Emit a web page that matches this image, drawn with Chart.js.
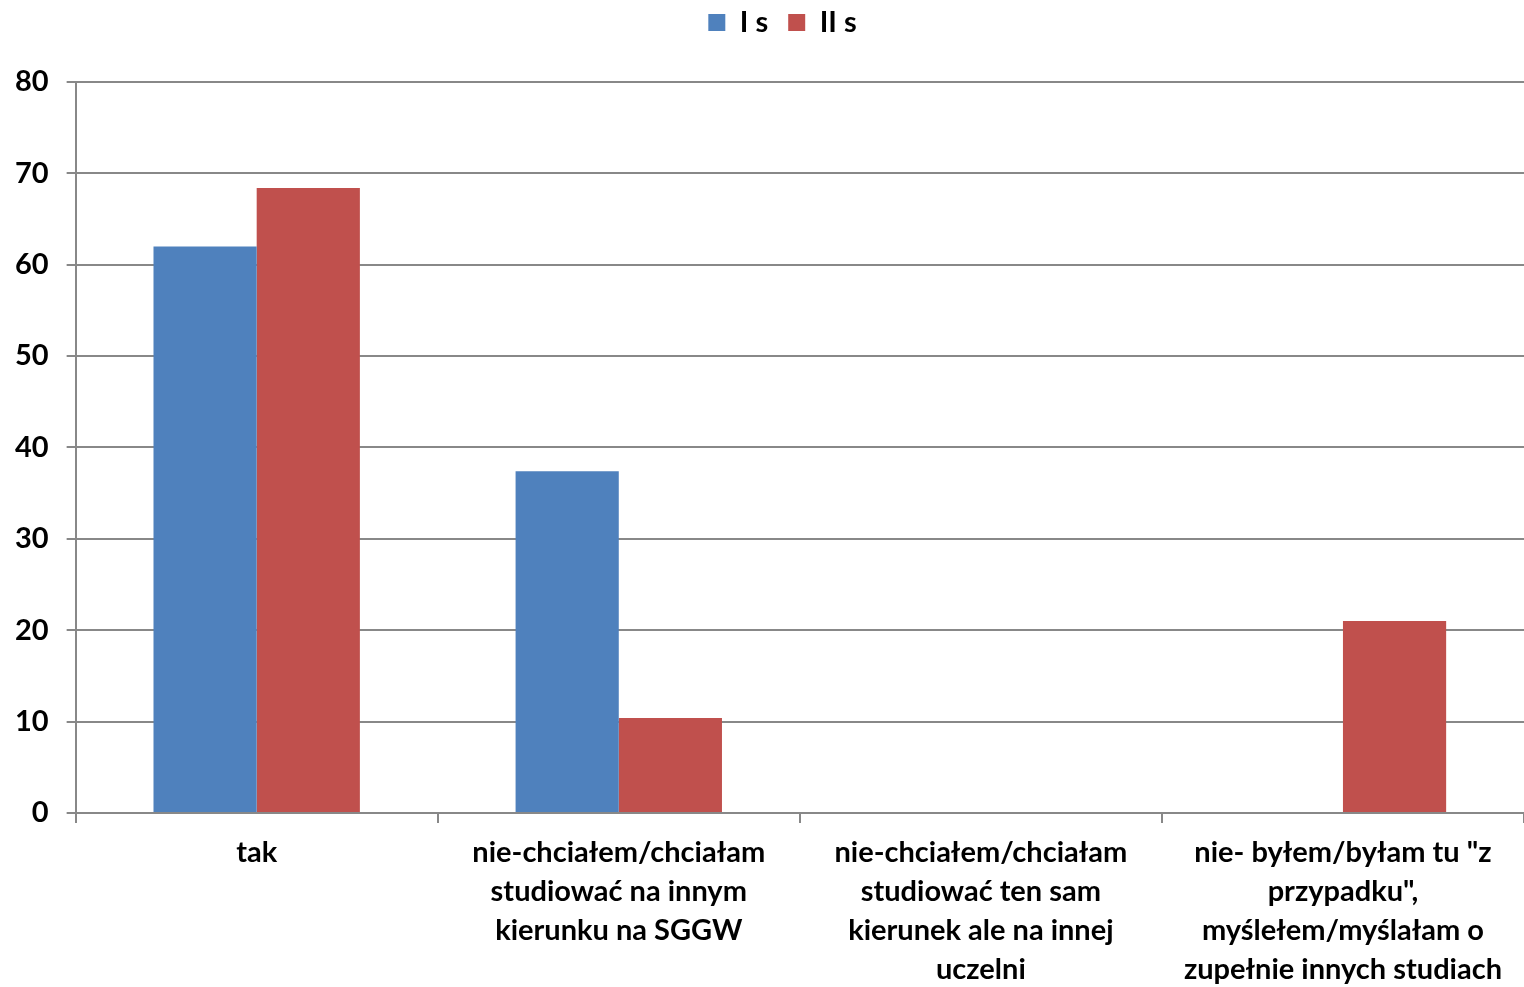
<!DOCTYPE html>
<html>
<head>
<meta charset="utf-8">
<script src="https://cdn.jsdelivr.net/npm/chart.js@4"></script>
<style>
  body { margin: 0; background: #fff; }
  #wrap { width: 1524px; height: 987px; }
</style>
</head>
<body>
<div id="wrap"><canvas id="answersChart"></canvas></div>
<script>
const categories = [
  "tak",
  ["nie-chciałem/chciałam", "studiować na innym", "kierunku na SGGW"],
  ["nie-chciałem/chciałam", "studiować ten sam", "kierunek ale na innej", "uczelni"],
  ["nie- byłem/byłam tu \"z", "przypadku\",", "myślełem/myślałam o", "zupełnie innych studiach"]
];
const seriesNames = ["I s", "II s"];
const firstDegree = [62, 37.4, 0, 0];
const secondDegree = [68.4, 10.4, 0, 21];
const yTicks = [0, 10, 20, 30, 40, 50, 60, 70, 80];

const fontFamily = "Lato, 'Open Sans', sans-serif";
const gridColor = "#888888";

// push the plot area down under the legend, nudge legend a bit right
const legendGap = {
  id: "legendGap",
  beforeInit(chart) {
    const fit = chart.legend.fit;
    chart.legend.fit = function () {
      fit.bind(chart.legend)();
      this.height += 35;
    };
  },
  afterUpdate(chart) {
    chart.legend.left += 22;
    chart.legend.right += 22;
  },
};

const ctx = document.getElementById("answersChart").getContext("2d");
const answersChart = new Chart(ctx, {
  type: "bar",
  data: {
    labels: categories,
    datasets: [
      {
        label: seriesNames[0],
        data: firstDegree,
        backgroundColor: "#4F81BD",
        borderWidth: 0,
      },
      {
        label: seriesNames[1],
        data: secondDegree,
        backgroundColor: "#C0504D",
        borderWidth: 0,
      },
    ],
  },
  plugins: [legendGap],
  options: {
    responsive: true,
    maintainAspectRatio: false,
    animation: false,
    layout: { padding: { left: -3, right: 0, top: -12, bottom: -12 } },
    datasets: {
      bar: { barPercentage: 1, categoryPercentage: 0.57 },
    },
    plugins: {
      tooltip: { enabled: false },
      legend: {
        position: "top",
        labels: {
          boxWidth: 17,
          boxHeight: 17,
          padding: 20,
          color: "#000",
          font: { family: fontFamily, size: 29, weight: "bold" },
        },
      },
    },
    scales: {
      x: {
        border: { color: gridColor, width: 2 },
        grid: {
          offset: true,
          drawOnChartArea: false,
          color: gridColor,
          lineWidth: 2,
          tickLength: 10,
        },
        ticks: {
          color: "#000",
          maxRotation: 0,
          autoSkip: false,
          padding: 10,
          font: { family: fontFamily, size: 29, weight: "bold", lineHeight: 1.345 },
        },
      },
      y: {
        min: 0,
        max: 80,
        afterBuildTicks: (axis) => {
          axis.ticks = yTicks.map((v) => ({ value: v }));
        },
        border: { color: gridColor, width: 2 },
        grid: {
          color: gridColor,
          lineWidth: 2,
          tickLength: 9,
        },
        ticks: {
          color: "#000",
          padding: 18,
          font: { family: fontFamily, size: 29, weight: "bold" },
        },
      },
    },
  },
});
</script>
</body>
</html>
